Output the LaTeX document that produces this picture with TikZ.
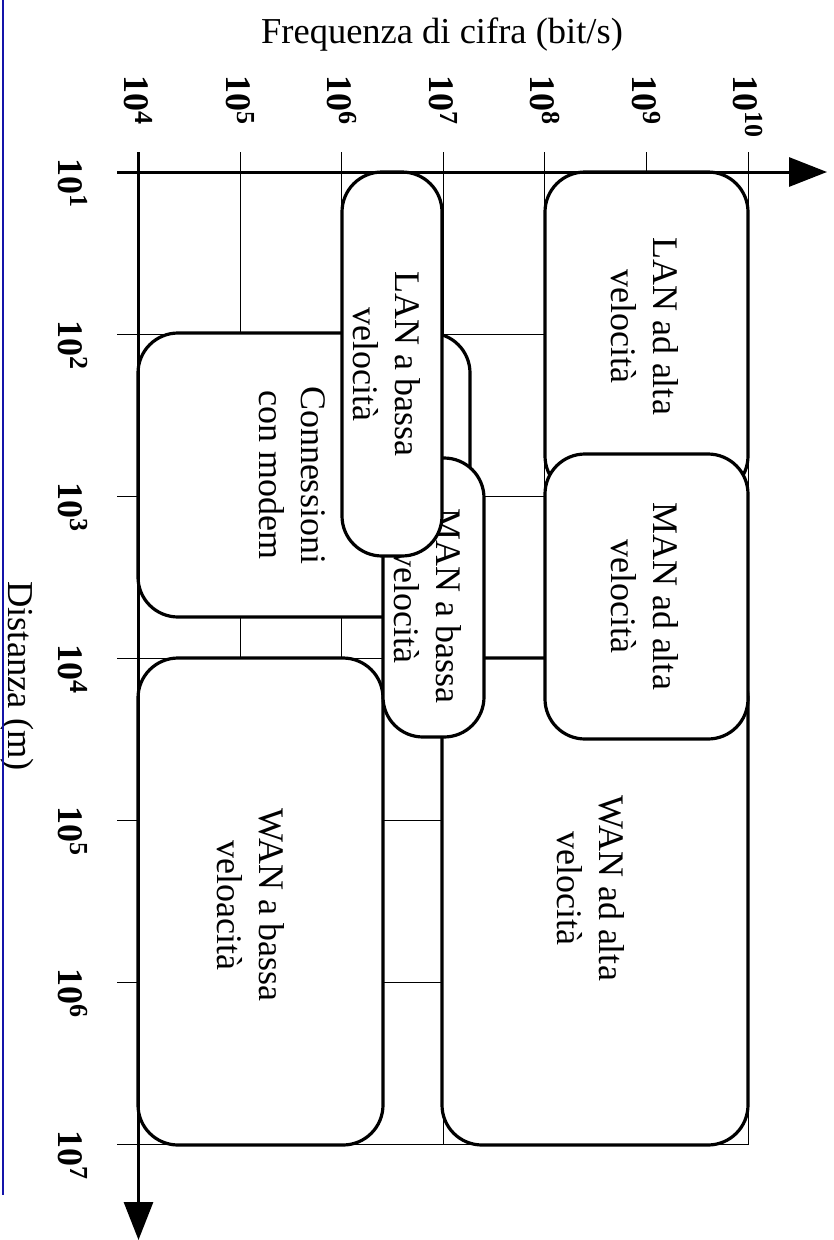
\documentclass[tikz,border=0pt]{standalone}
\usepackage{fontspec}
\setmainfont{Liberation Serif}
\usetikzlibrary{arrows.meta}
\definecolor{framebar}{RGB}{20,20,170}
% power of ten with a raised exponent
\newcommand\decpow[1]{10\raisebox{11.5pt}{\fontsize{26}{26}\selectfont #1}}
\begin{document}
\begin{tikzpicture}[x=1pt,y=-1pt,
  gridline/.style={line width=1.1pt,black},
  axisline/.style={line width=3pt,black,-{Triangle[length=38pt,width=29pt]}},
  regionbox/.style={draw,line width=3.2pt,fill=white,rounded corners=40pt,
    inner sep=0pt,outer sep=0pt},
  boxlabel/.style={rotate=-90,align=center,inner sep=0pt,
    font=\fontsize{36}{42}\selectfont},
  ticklabel/.style={rotate=-90,anchor=west,inner sep=0pt,
    font=\fontsize{36}{36}\selectfont\bfseries},
  axistitle/.style={inner sep=0pt,font=\fontsize{36.5}{40}\selectfont}]

\useasboundingbox (0,0) rectangle (834,1240);

% decade grid
\foreach \i in {1,...,6}
  \draw[gridline] (138.5+101.6*\i,152) -- (138.5+101.6*\i,1145);
\foreach \i in {1,...,6}
  \draw[gridline] (117,172+162.1*\i) -- (748.1,172+162.1*\i);

% regions, from the bottom layer up
\node[regionbox,minimum width=332pt,minimum height=284pt] (modem) at (304,475) {};
\node[boxlabel] (modemtxt) at (292.5,475) {Connessioni\\con modem};

\node[regionbox,minimum width=245pt,minimum height=487pt] (wanlo) at (260.5,901.5) {};
\node[boxlabel] (wanlotxt) at (251,905) {WAN a bassa\\veloacità};

\node[regionbox,minimum width=306pt,minimum height=487pt] (wanhi) at (595,901.5) {};
\node[boxlabel] (wanhitxt) at (591,888) {WAN ad alta\\velocità};

\node[regionbox,minimum width=203pt,minimum height=324pt] (lanhi) at (646.5,334) {};
\node[boxlabel] (lanhitxt) at (645,326) {LAN ad alta\\velocità};

\node[regionbox,minimum width=203pt,minimum height=285pt] (manhi) at (646.5,596.5) {};
\node[boxlabel] (manhitxt) at (645,596) {MAN ad alta\\velocità};

\node[regionbox,minimum width=101pt,minimum height=279pt] (manlo) at (433.5,597.5) {};
\node[boxlabel] (manlotxt) at (427.5,606) {MAN a bassa\\velocità};

\node[regionbox,minimum width=100pt,minimum height=384pt] (lanlo) at (392,364) {};
\node[boxlabel] (lanlotxt) at (386.5,364) {LAN a bassa\\velocità};

% axes
\coordinate (xo) at (117,172);
\coordinate (xa) at (827,172);
\coordinate (yo) at (138.5,152);
\coordinate (ya) at (138.5,1240);
\draw[axisline] (xo) -- (xa);
\draw[axisline] (yo) -- (ya);

% tick labels
\foreach \e [count=\i from 0] in {4,...,10}
  \node[ticklabel] (fq\e) at (138.5+101.6*\i,75) {\decpow{\e}};
\foreach \e [count=\i from 0] in {1,...,7}
  \node[ticklabel] (ds\e) at (73,158+162.1*\i) {\decpow{\e}};

% axis titles
\node[axistitle,anchor=base] (ftitle) at (442,43) {Frequenza di cifra (bit/s)};
\node[axistitle,rotate=-90,anchor=base] (dtitle) at (8.5,676) {Distanza (m)};

% page margin rule
\coordinate (bartop) at (3.3,0);
\coordinate (barbot) at (3.3,1195);
\draw[framebar,line width=2.2pt] (bartop) -- (barbot);
\end{tikzpicture}
\end{document}
